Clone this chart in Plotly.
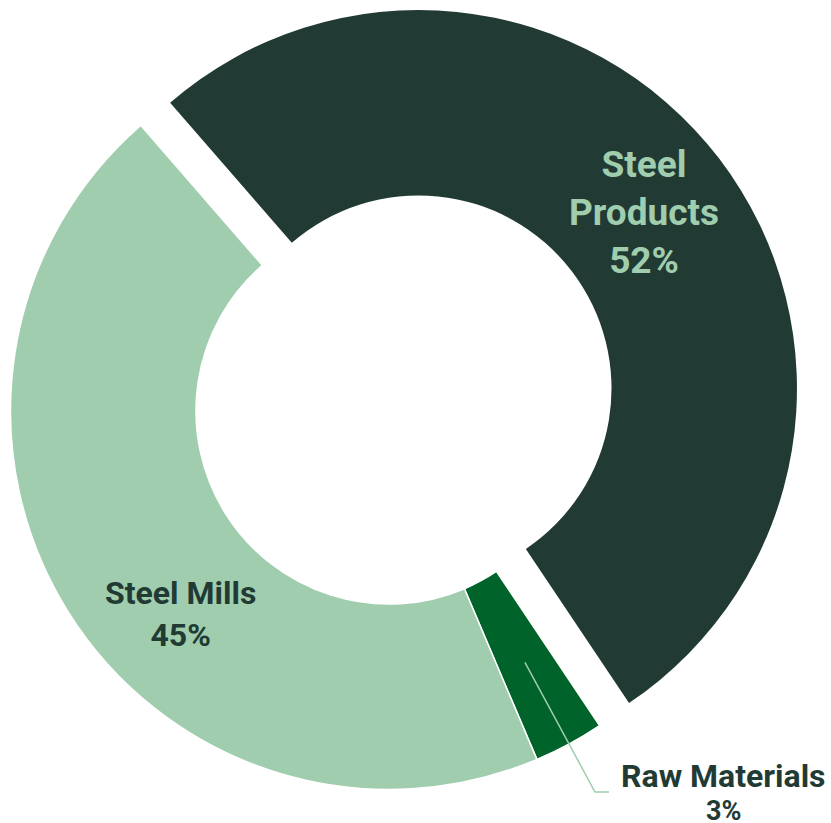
import math
import plotly.graph_objects as go

# ---- data ----
labels = ["Steel Products", "Raw Materials", "Steel Mills"]
values = [52, 3, 45]
label_text = ["Steel<br>Products", "Raw Materials", "Steel Mills"]
colors = ["#213b34", "#00632a", "#a0cdae"]

W, H = 831, 823
DARK, LIGHT = "#213b34", "#a0cdae"

# geometry (pixels)
cx, cy, R = 389.0, 411.0, 378.5
hole = 0.51
start_deg = 131.0          # math angle where first slice starts (clockwise order)
pull = 0.098               # pull of the first slice (fraction of radius)

total = float(sum(values))
def slice_angles(i):
    a0 = start_deg - 360.0 * sum(values[:i]) / total
    a1 = a0 - 360.0 * values[i] / total
    return a0, a1

def dom(ccx, ccy, r):
    return dict(x=[(ccx - r) / W, (ccx + r) / W], y=[1 - (ccy + r) / H, 1 - (ccy - r) / H])

# offset of pulled slice
a0, a1 = slice_angles(0)
mid = math.radians((a0 + a1) / 2)
dx, dy = pull * R * math.cos(mid), -pull * R * math.sin(mid)

transparent = "rgba(0,0,0,0)"
colsA = [transparent] + colors[1:]
colsB = [colors[0]] + [transparent] * (len(values) - 1)
lwA = [0] + [1.5] * (len(values) - 1)
lwB = [0] * len(values)

common = dict(labels=labels, values=values, sort=False, direction="clockwise",
              rotation=90 - start_deg, hole=hole, textinfo="none", hoverinfo="label+percent",
              showlegend=False)

fig = go.Figure()
fig.add_trace(go.Pie(domain=dom(cx, cy, R), marker=dict(colors=colsA, line=dict(color="white", width=lwA)), **common))
fig.add_trace(go.Pie(domain=dom(cx + dx, cy + dy, R), marker=dict(colors=colsB, line=dict(color="white", width=lwB)), **common))

def px(x, y):
    return x / W, 1 - y / H

def ann(xp, yp, text, size, color):
    x, y = px(xp, yp)
    return dict(x=x, y=y, xref="paper", yref="paper", showarrow=False,
                xanchor="center", yanchor="middle", text=text, align="center",
                font=dict(family="Roboto", size=size, color=color))

annotations = [
    ann(644, 212, f"<b>{label_text[0]}<br>{values[0]}%</b>", 37, LIGHT),
    ann(180, 614, f"<b>{label_text[2]}<br>{values[2]}%</b>", 32, DARK),
    ann(723.5, 776, f"<b>{label_text[1]}</b>", 32, DARK),
    ann(723.5, 811, f"<b>{values[1]}%</b>", 27, DARK),
]

# leader line for Raw Materials, computed from slice geometry
b0, b1 = slice_angles(1)
bm = math.radians((b0 + b1) / 2)
rmid = R * (1 + hole) / 2
sx, sy = cx + rmid * math.cos(bm), cy - rmid * math.sin(bm)
ey = 792
ex = sx + (ey - sy) * (math.cos(bm) / -math.sin(bm))
p = [px(sx, sy), px(ex, ey), px(ex + 14, ey)]
path = f"M {p[0][0]},{p[0][1]} L {p[1][0]},{p[1][1]} L {p[2][0]},{p[2][1]}"
shapes = [dict(type="path", path=path, xref="paper", yref="paper",
               line=dict(color=LIGHT, width=1.5))]

fig.update_layout(width=W, height=H, margin=dict(l=0, r=0, t=0, b=0),
                  paper_bgcolor="white", plot_bgcolor="white",
                  annotations=annotations, shapes=shapes,
                  font=dict(family="Roboto"))

fig.write_html("out.html")
